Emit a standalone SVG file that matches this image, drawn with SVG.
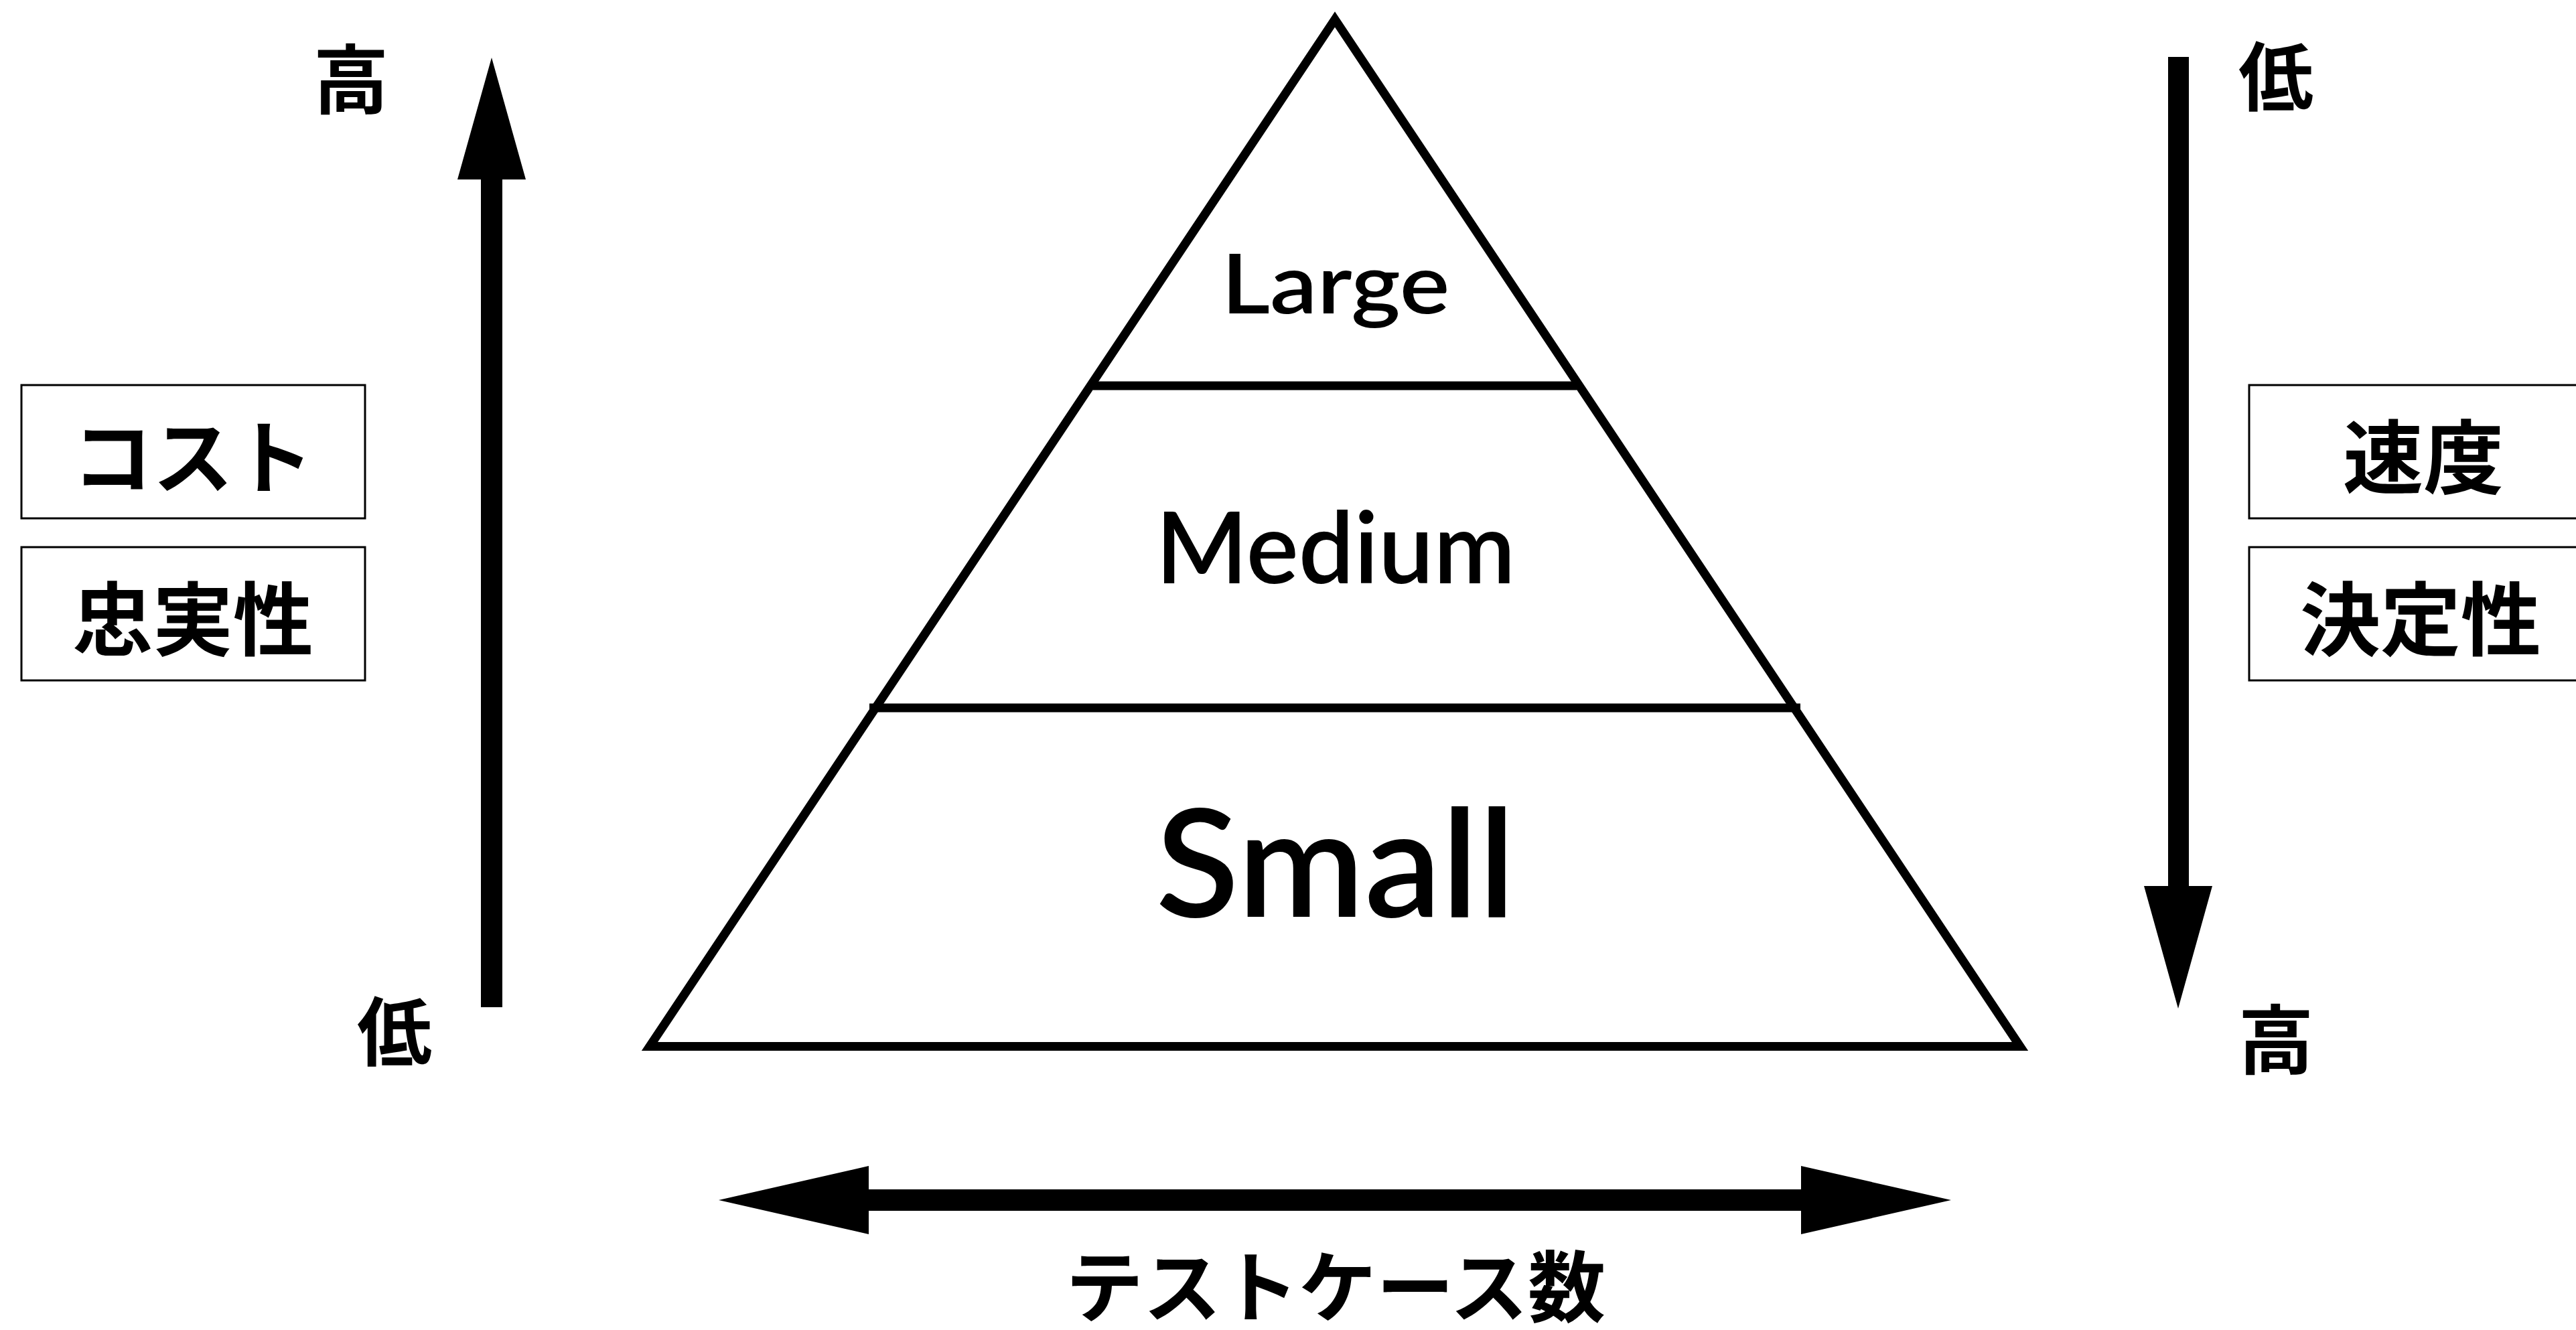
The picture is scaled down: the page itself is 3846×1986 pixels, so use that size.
<svg xmlns="http://www.w3.org/2000/svg" width="3846" height="1986" viewBox="0 0 3846 1986">
<style>
.bg{fill:#ffffff}
.tri{fill:none;stroke:#000;stroke-width:13;stroke-linejoin:miter;stroke-miterlimit:10}
.sep{stroke:#000;stroke-width:13;stroke-linecap:butt}
.box{fill:#fff;stroke:#000;stroke-width:3}
.arrow{fill:#000;stroke:none}
.lat{font-family:Lato,"Noto Sans","Liberation Sans",sans-serif;font-weight:600;fill:#000;text-anchor:middle}
.jp{font-family:"Noto Sans CJK JP","Noto Sans CJK SC",sans-serif;font-weight:bold;fill:#000;text-anchor:middle;dominant-baseline:central}
</style>
<rect class="bg" x="0" y="0" width="3846" height="1986"/>
<g id="pyramid">
<polygon class="tri" points="1993,29 970,1562.5 3016,1562.5"/>
<line class="sep" x1="1632" y1="576" x2="2354" y2="576"/>
<line class="sep" x1="1298" y1="1057" x2="2688" y2="1057"/>
</g>
<g id="node-large"><text class="lat" x="1994" y="468" font-size="124" textLength="341" lengthAdjust="spacingAndGlyphs">Large</text></g>
<g id="node-medium"><text class="lat" x="1994" y="871" font-size="148" textLength="537" lengthAdjust="spacingAndGlyphs">Medium</text></g>
<g id="node-small"><text class="lat" x="1994" y="1369" font-size="224" textLength="537" lengthAdjust="spacingAndGlyphs">Small</text></g>
<g id="connectors">
<polygon id="arrow-left-up" class="arrow" points="718,1504 718,268 683,268 734,86 785,268 750,268 750,1504"/>
<polygon id="arrow-right-down" class="arrow" points="3237,85 3268,85 3268,1323 3303,1323 3252,1506 3201,1323 3237,1323"/>
<polygon id="arrow-bottom" class="arrow" points="1073,1792 1297,1741 1297,1776 2689,1776 2689,1741 2913,1792 2689,1843 2689,1808 1297,1808 1297,1843"/>
</g>
<g id="label-left-high"><text class="jp" x="524" y="112" font-size="112">高</text></g>
<g id="label-left-low"><text class="jp" x="589" y="1534" font-size="112">低</text></g>
<g id="label-right-low"><text class="jp" x="3398" y="108" font-size="112">低</text></g>
<g id="label-right-high"><text class="jp" x="3398" y="1546" font-size="112">高</text></g>
<g id="node-cost"><rect class="box" x="32" y="575" width="513" height="199"/><text class="jp" x="288" y="676" font-size="120">コスト</text></g>
<g id="node-fidelity"><rect class="box" x="32" y="817" width="513" height="199"/><text class="jp" x="288" y="918" font-size="120">忠実性</text></g>
<g id="node-speed"><rect class="box" x="3358" y="575" width="513" height="199"/><text class="jp" x="3618" y="676" font-size="120">速度</text></g>
<g id="node-determinism"><rect class="box" x="3358" y="817" width="513" height="199"/><text class="jp" x="3614" y="918" font-size="120">決定性</text></g>
<g id="label-testcases"><text class="jp" x="1994" y="1914" font-size="116">テストケース数</text></g>
</svg>
